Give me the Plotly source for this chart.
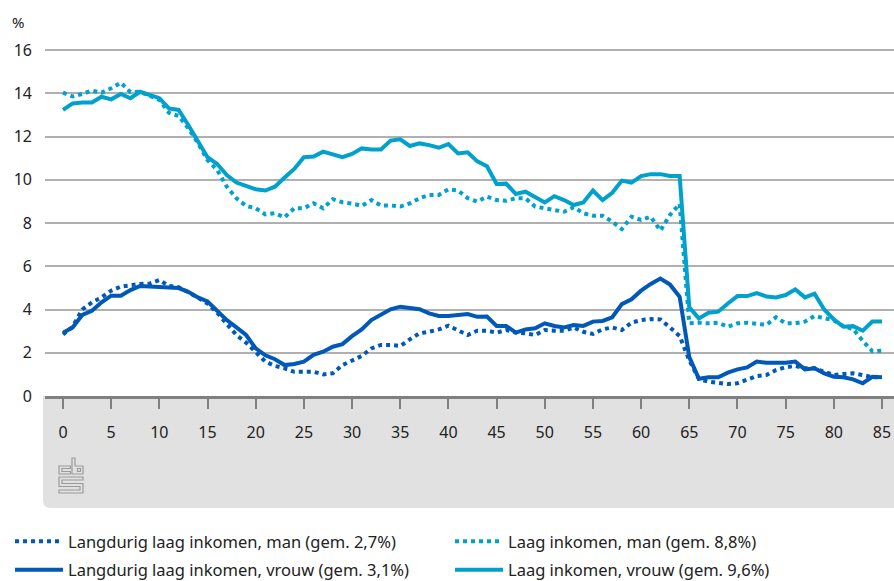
import plotly.graph_objects as go


# ─────────────────────────────────────────────────────────────
# DATA  (percentage per age)
# ─────────────────────────────────────────────────────────────

ages = list(range(86))

langdurig_man = [
    2.85, 3.2, 4.0, 4.33, 4.56, 4.87, 5.06, 5.13, 5.18, 5.2, 5.36, 5.09, 5.03, 4.8, 4.56,
    4.28, 3.85, 3.33, 2.82, 2.47, 2.05,
    1.59, 1.39, 1.28, 1.12, 1.12, 1.12, 1.0, 1.05, 1.43, 1.66, 1.85, 2.2, 2.36, 2.36,
    2.31, 2.62, 2.9, 2.97, 3.08, 3.25, 3.02, 2.82, 3.02, 3.02,
    2.93, 3.05, 2.93, 2.9, 2.82, 3.05, 3.02, 3.02, 3.17, 2.97, 2.87, 3.08, 3.17, 3.05,
    3.39, 3.51, 3.56, 3.54, 3.17, 2.77,
    1.65, 0.78, 0.66, 0.59, 0.55, 0.59, 0.77, 0.92, 0.97, 1.2, 1.33, 1.39, 1.28, 1.28,
    1.12, 0.97, 1.02, 1.05, 0.97, 0.87, 0.87,
]

langdurig_vrouw = [
    2.93, 3.17, 3.75, 3.94, 4.33, 4.64, 4.64, 4.9, 5.09, 5.06, 5.03, 5.03, 4.99, 4.82, 4.56,
    4.37, 3.94, 3.51, 3.17, 2.82, 2.2,
    1.88, 1.7, 1.43, 1.48, 1.59, 1.9, 2.05, 2.28, 2.4, 2.77, 3.08, 3.51, 3.78, 4.01,
    4.13, 4.08, 4.01, 3.82, 3.7, 3.7, 3.75, 3.79, 3.66, 3.67,
    3.24, 3.24, 2.93, 3.08, 3.13, 3.36, 3.24, 3.17, 3.28, 3.24, 3.44, 3.47, 3.64, 4.25,
    4.47, 4.87, 5.18, 5.43, 5.15, 4.59,
    1.8, 0.8, 0.87, 0.87, 1.08, 1.23, 1.32, 1.59, 1.54, 1.54, 1.54, 1.59, 1.23, 1.28,
    1.05, 0.89, 0.87, 0.77, 0.59, 0.89, 0.87,
]

laag_man = [
    14.03, 13.85, 13.97, 14.12, 14.03, 14.23, 14.49, 14.05, 14.07, 13.9, 13.69, 13.1,
    12.95, 12.38, 11.7, 10.91, 10.45, 9.68, 9.14, 8.79, 8.68,
    8.4, 8.45, 8.26, 8.68, 8.68, 8.91, 8.68, 9.1, 8.96, 8.9, 8.79, 9.06, 8.81, 8.81,
    8.76, 8.91, 9.14, 9.3, 9.3, 9.56, 9.5, 9.15, 8.99, 9.22,
    9.06, 9.03, 9.14, 9.14, 8.76, 8.68, 8.57, 8.52, 8.73, 8.45, 8.34, 8.34, 8.06, 7.72,
    8.29, 8.14, 8.29, 7.65, 8.37, 8.88,
    3.36, 3.39, 3.36, 3.39, 3.2, 3.36, 3.39, 3.36, 3.29, 3.64, 3.36, 3.36, 3.44, 3.7,
    3.59, 3.5, 3.23, 3.1, 2.55, 2.07, 2.1,
]

laag_vrouw = [
    13.23, 13.53, 13.57, 13.57, 13.84, 13.72, 13.97, 13.77, 14.07, 13.9, 13.77, 13.3,
    13.23, 12.53, 11.76, 11.04, 10.73, 10.22, 9.87, 9.73, 9.56,
    9.5, 9.68, 10.1, 10.5, 11.04, 11.07, 11.3, 11.17, 11.04, 11.19, 11.45, 11.4, 11.4,
    11.81, 11.87, 11.56, 11.68, 11.6, 11.48, 11.65, 11.22, 11.27, 10.85, 10.62,
    9.8, 9.82, 9.34, 9.45, 9.22, 8.95, 9.24, 9.06, 8.83, 8.95, 9.5, 9.06, 9.4, 9.96,
    9.87, 10.17, 10.26, 10.26, 10.17, 10.17,
    4.1, 3.59, 3.85, 3.9, 4.28, 4.62, 4.62, 4.76, 4.6, 4.56, 4.67, 4.93, 4.56, 4.73,
    4.0, 3.54, 3.2, 3.23, 3.02, 3.44, 3.44,
]

x_ticks = list(range(0, 90, 5))
y_ticks = list(range(0, 18, 2))


# ─────────────────────────────────────────────────────────────
# STYLE  (positions below are screen pixels)
# ─────────────────────────────────────────────────────────────

W, H = 894, 581
PLOT_X0, PLOT_X1, PLOT_Y0, PLOT_Y1 = 45, 894, 40, 396
L, R, T, B = PLOT_X0, W - PLOT_X1, PLOT_Y0, H - PLOT_Y1
DARK = "#0058b8"
LIGHT = "#00a1cd"
DOTS = "4px,4px"
FONT = "Noto Sans"

PW, PH = PLOT_X1 - PLOT_X0, PLOT_Y1 - PLOT_Y0

# page body has a default 8px margin; drop it so the figure fills the window
NO_MARGIN_JS = ("document.body.style.margin='0';"
                "document.body.style.overflow='hidden';")


def px(x, y):
    # screen pixel -> paper coords
    return (x - PLOT_X0) / PW, (PLOT_Y1 - y) / PH


def cont(x, y):
    # screen pixel -> container coords
    return x / W, 1 - y / H


def path(points, close=True):
    parts = []
    for i, (x, y) in enumerate(points):
        xp, yp = px(x, y)
        parts.append(("M" if i == 0 else "L") + f"{xp:.5f},{yp:.5f}")
    return " ".join(parts) + (" Z" if close else "")


fig = go.Figure()

series = [
    ("Langdurig laag inkomen, man (gem. 2,7%)", langdurig_man, DARK, DOTS, "legend"),
    ("Langdurig laag inkomen, vrouw (gem. 3,1%)", langdurig_vrouw, DARK, "solid", "legend"),
    ("Laag inkomen, man (gem. 8,8%)", laag_man, LIGHT, DOTS, "legend2"),
    ("Laag inkomen, vrouw (gem. 9,6%)", laag_vrouw, LIGHT, "solid", "legend2"),
]
for name, vals, color, dash, leg in series:
    fig.add_trace(go.Scatter(
        x=ages, y=vals, name=name, mode="lines",
        line=dict(color=color, width=4, dash=dash),
        legend=leg, legendgroup=name,
    ))

# ── grey band under the x axis, rounded bottom-left corner ──
x0, y0 = px(43, 396)
x1, y1 = px(894, 508)
rx, ry = 8 / PW, 8 / PH
band = (f"M{x0:.5f},{y0:.5f} L{x1:.5f},{y0:.5f} L{x1:.5f},{y1:.5f} "
        f"L{x0 + rx:.5f},{y1:.5f} Q{x0:.5f},{y1:.5f} {x0:.5f},{y1 + ry:.5f} Z")
shapes = [dict(type="path", xref="paper", yref="paper", path=band,
               fillcolor="#e1e1e1", line=dict(width=0), layer="below")]

# ── small cbs logo ──
logo = [
    [(70.5, 466), (59, 466), (59, 474), (70.5, 474), (70.5, 471.5), (62, 471.5),
     (62, 468.5), (70.5, 468.5)],
    [(72, 458), (75, 458), (75, 466), (83, 466), (83, 474), (72, 474)],
    [(77.5, 468.5), (80.5, 468.5), (80.5, 471.5), (77.5, 471.5)],
    [(59, 477), (83, 477), (83, 480), (62, 480), (62, 483.5), (83, 483.5), (83, 493),
     (59, 493), (59, 490), (80, 490), (80, 486.5), (59, 486.5)],
]
for pts in logo:
    shapes.append(dict(type="path", xref="paper", yref="paper", path=path(pts),
                       line=dict(color="#9a9a9a", width=1.2), layer="above"))

# x range / y range chosen so 0 sits at x=63 px, 85 at x=882 px, 0..16 at 396..50 px
scale_x = (882 - 63) / 85
xr0 = -(63 - PLOT_X0) / scale_x
xr1 = xr0 + PW / scale_x
yr1 = PH / ((396 - 50) / 16)

legend_style = dict(
    xref="container", yref="container", xanchor="left", yanchor="top",
    itemwidth=48, tracegroupgap=4, bgcolor="rgba(0,0,0,0)",
    font=dict(size=16.5, color="#222"),
)
lx1, ly = cont(10, 524)
lx2, _ = cont(450, 524)

fig.update_layout(
    width=W, height=H,
    margin=dict(l=L, r=R, t=T, b=B, autoexpand=False),
    paper_bgcolor="white", plot_bgcolor="white",
    font=dict(family=FONT, size=16, color="#222"),
    shapes=shapes,
    xaxis=dict(
        range=[xr0, xr1], tickvals=x_ticks, showgrid=False, zeroline=False,
        showline=True, linecolor="#808080", linewidth=3,
        ticks="outside", ticklen=10, tickwidth=1.5, tickcolor="#808080",
        ticklabelstandoff=10, tickfont=dict(size=16, color="#222"),
    ),
    yaxis=dict(
        range=[0, yr1], tickvals=y_ticks, showgrid=True, gridcolor="#b0b0b0",
        gridwidth=1.5, zeroline=False, ticks="", ticklabelstandoff=12,
        tickfont=dict(size=16, color="#222"),
    ),
    annotations=[dict(text="%", xref="paper", yref="paper", x=px(10, 22)[0],
                      y=px(10, 22)[1], xanchor="left", yanchor="middle",
                      showarrow=False, font=dict(size=15, color="#222"))],
    legend=dict(x=lx1, y=ly, **legend_style),
    legend2=dict(x=lx2, y=ly, **legend_style),
    showlegend=True,
)

fig.write_html("out.html", post_script=NO_MARGIN_JS,
               config={"displayModeBar": False})
